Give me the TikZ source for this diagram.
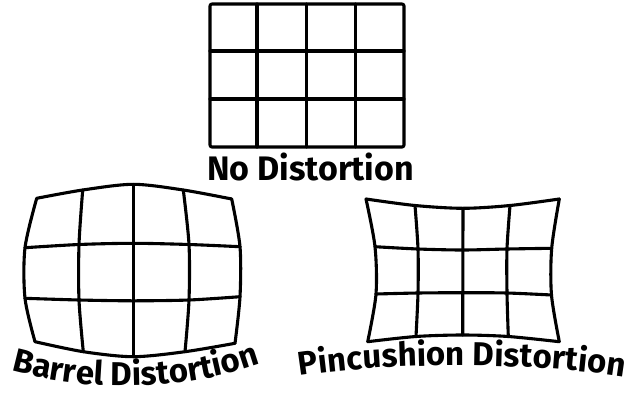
\documentclass[tikz,border=0pt]{standalone}
\usepackage{fontspec}
\setmainfont{Fira Sans}
\usetikzlibrary{decorations.text}
\newcommand{\labfont}{\fontsize{34}{38}\selectfont\bfseries}
\newcommand{\curvefont}{\fontsize{33}{37}\selectfont\bfseries}
\begin{document}
\begin{tikzpicture}[x=1pt,y=-1pt,
  gridline/.style={line width=3.1pt, line join=round, line cap=round},
  curvelab/.style={decorate, decoration={text along path, text align=center, text={#1}}}]
\useasboundingbox (0,0) rectangle (630,394);
\fill[white] (0,0) rectangle (630,394);
% ---------- No distortion ----------
\draw[gridline, rounded corners=2pt] (210,4) rectangle (404,147);
\draw[gridline] (257,4) -- (257,147) (306.7,4) -- (306.7,147) (355.5,4) -- (355.5,147)
  (210,51) -- (404,51) (210,99) -- (404,99);
\node[anchor=base, inner sep=0pt, font=\labfont] (nolab) at (310.5,180) {No Distortion};
% ---------- Barrel ----------
\draw[gridline] plot[smooth] coordinates {(36.7,198.3) (82.7,190) (133.3,184.3) (183.3,190) (231.7,199)};
\draw[gridline] plot[smooth] coordinates {(25,247.7) (79,244.5) (133.3,243.3) (189,244.5) (240,246.7)};
\draw[gridline] plot[smooth] coordinates {(25,298.3) (79,300) (133.3,300.8) (189,300) (240,296.7)};
\draw[gridline] plot[smooth] coordinates {(35,341.7) (83.3,351.7) (133.3,356.7) (185,351.7) (235,343.3)};
\draw[gridline] plot[smooth] coordinates {(36.7,198.3) (25,247.7) (25,298.3) (35,341.7)};
\draw[gridline] plot[smooth] coordinates {(82.7,190) (79,244.5) (79,300) (83.3,351.7)};
\draw[gridline] (133.3,184.3) -- (133.3,356.7);
\draw[gridline] plot[smooth] coordinates {(183.3,190) (189,244.5) (189,300) (185,351.7)};
\draw[gridline] plot[smooth] coordinates {(231.7,199) (240,246.7) (240,296.7) (235,343.3)};
\path[curvelab={|\curvefont|Barrel Distortion}] (12,371) .. controls (90,392) and (180,392) .. (260,364);
% ---------- Pincushion ----------
\draw[gridline] plot[smooth] coordinates {(366,199) (415,205.5) (463,208.3) (510,205.5) (559.3,199)};
\draw[gridline] plot[smooth] coordinates {(375,246.7) (418,249) (462.7,250) (507,249) (551.7,248.3)};
\draw[gridline] plot[smooth] coordinates {(376,294) (418,293) (462.7,292.7) (507,293) (551.5,295)};
\draw[gridline] plot[smooth] coordinates {(367.7,341.7) (416,336.5) (462.7,335) (508.3,336.5) (559.3,341.7)};
\draw[gridline] plot[smooth] coordinates {(366,199) (375,246.7) (376,294) (367.7,341.7)};
\draw[gridline] plot[smooth] coordinates {(415,205.5) (418,249) (418,293) (416,336.5)};
\draw[gridline] (463,208.3) -- (462.7,335);
\draw[gridline] plot[smooth] coordinates {(510,205.5) (507,249) (507,293) (508.3,336.5)};
\draw[gridline] plot[smooth] coordinates {(559.3,199) (551.7,248.3) (551.5,295) (559.3,341.7)};
\path[curvelab={|\curvefont|Pincushion Distortion}] (300,376) .. controls (390,362) and (530,362) .. (624,377);
\end{tikzpicture}
\end{document}
